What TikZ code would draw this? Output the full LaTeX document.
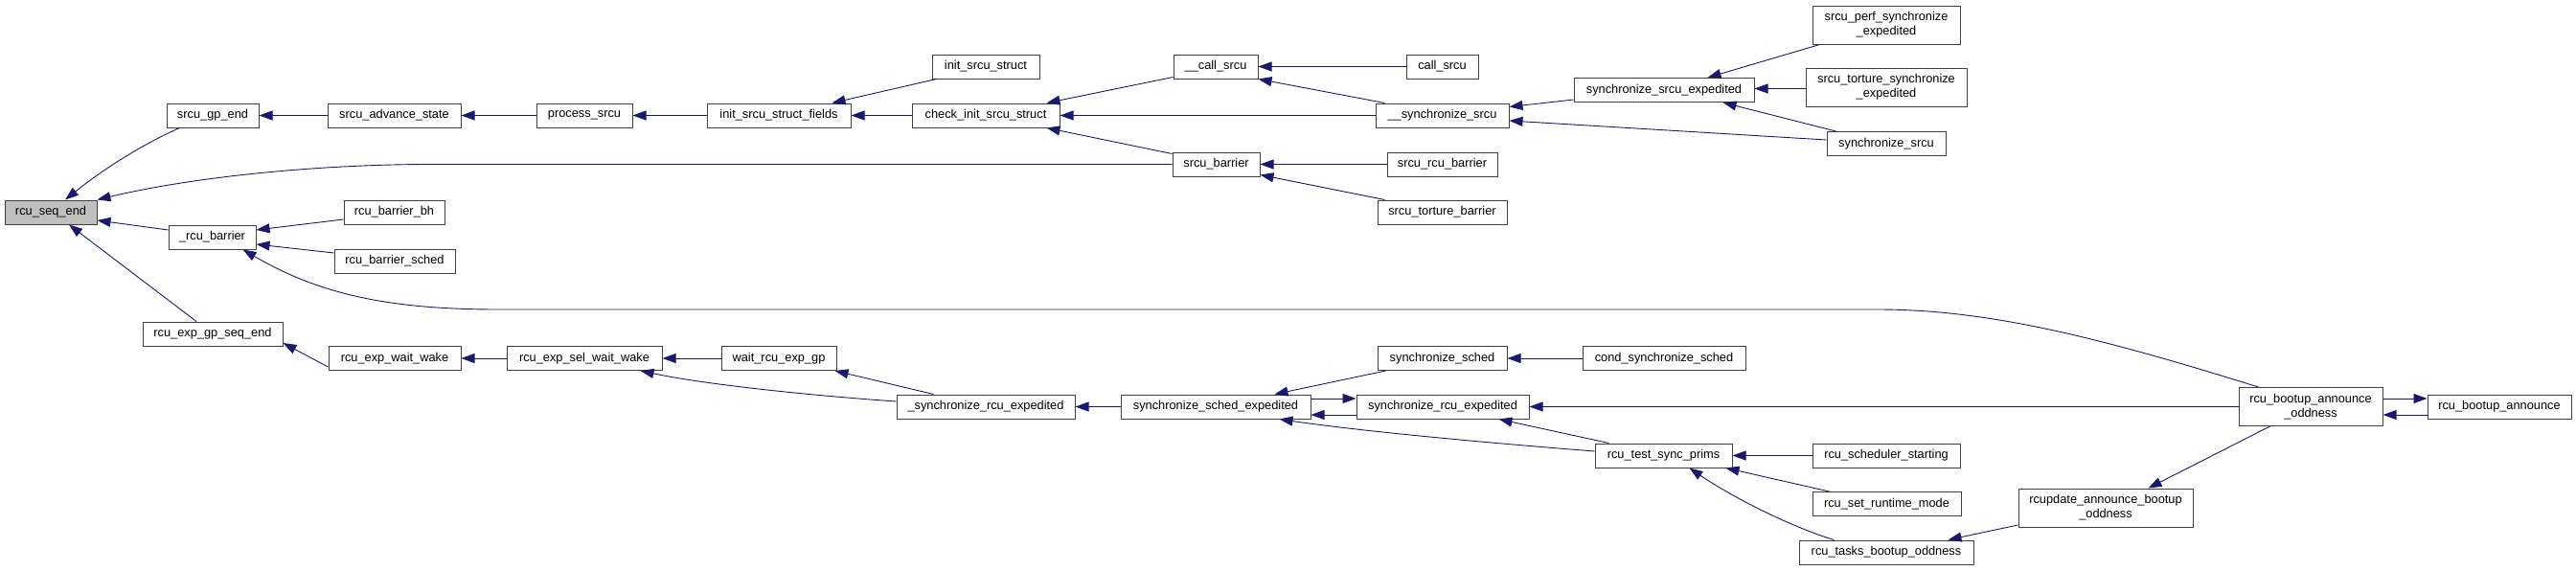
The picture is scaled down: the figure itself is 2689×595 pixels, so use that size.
\documentclass[tikz,border=0pt]{standalone}
\usepackage{fontspec}
\setmainfont{Liberation Sans}
\usetikzlibrary{arrows.meta}
\definecolor{edgecol}{HTML}{191970}
\tikzset{
  box/.style={draw=black!75, fill=white, line width=1pt, inner sep=0pt, minimum height=25pt, align=center, font=\fontsize{12.8}{15}\selectfont},
  tallbox/.style={minimum height=40pt},
  edge/.style={draw=edgecol, line width=0.9pt, -{Triangle[length=14pt,width=10pt]}},
}
\begin{document}
\begin{tikzpicture}[x=1pt,y=-1pt]
\useasboundingbox (0,0) rectangle (2689,595);
% nodes
\node[box, fill=black!25, minimum width=96pt] (seq) at (53,221.5) {rcu\_seq\_end};
\node[box, minimum width=96pt] (gpend) at (222,120.5) {srcu\_gp\_end};
\node[box, minimum width=139pt] (adv) at (411.5,120.5) {srcu\_advance\_state};
\node[box, minimum width=91pt] (rbar) at (221.5,247.5) {\_rcu\_barrier};
\node[box, minimum width=105pt] (rbbh) at (411.5,221.5) {rcu\_barrier\_bh};
\node[box, minimum width=126pt] (rbs) at (412,272.5) {rcu\_barrier\_sched};
\node[box, minimum width=146pt] (expgp) at (222,348.5) {rcu\_exp\_gp\_seq\_end};
\node[box, minimum width=138pt] (eww) at (412,374) {rcu\_exp\_wait\_wake};
\node[box, minimum width=100pt] (proc) at (610,120.5) {process\_srcu};
\node[box, minimum width=150pt] (isf) at (813,120.5) {init\_srcu\_struct\_fields};
\node[box, minimum width=162pt] (esww) at (610,374) {rcu\_exp\_sel\_wait\_wake};
\node[box, minimum width=120pt] (wreg) at (813,374) {wait\_rcu\_exp\_gp};
\node[box, minimum width=112pt] (iss) at (1029,69.5) {init\_srcu\_struct};
\node[box, minimum width=154pt] (ciss) at (1029,120.5) {check\_init\_srcu\_struct};
\node[box, minimum width=88pt] (csrcu) at (1269,69.5) {\_\_call\_srcu};
\node[box, minimum width=91pt] (sbar) at (1269.5,171.5) {srcu\_barrier};
\node[box, minimum width=186pt] (usre) at (1029,424.5) {\_synchronize\_rcu\_expedited};
\node[box, minimum width=198pt] (sse) at (1269,424.5) {synchronize\_sched\_expedited};
\node[box, minimum width=75pt] (callsrcu) at (1505.5,69.5) {call\_srcu};
\node[box, minimum width=139pt] (ussrcu) at (1505.5,120.5) {\_\_synchronize\_srcu};
\node[box, minimum width=188pt] (ssrcue) at (1737,94) {synchronize\_srcu\_expedited};
\node[box, minimum width=115pt] (srb) at (1505.5,171.5) {srcu\_rcu\_barrier};
\node[box, minimum width=135pt] (stb) at (1505.5,221.5) {srcu\_torture\_barrier};
\node[box, minimum width=135pt] (ssch) at (1505.5,374) {synchronize\_sched};
\node[box, minimum width=180pt] (sre) at (1506,424.5) {synchronize\_rcu\_expedited};
\node[box, minimum width=143pt] (rtsp) at (1736.5,475.5) {rcu\_test\_sync\_prims};
\node[box, minimum width=170pt] (css) at (1737,374) {cond\_synchronize\_sched};
\node[box, tallbox, minimum width=154pt] (spse) at (1969,26) {srcu\_perf\_synchronize\\\_expedited};
\node[box, tallbox, minimum width=168pt] (stse) at (1969,91) {srcu\_torture\_synchronize\\\_expedited};
\node[box, minimum width=124pt] (ssrcu) at (1969,150) {synchronize\_srcu};
\node[box, minimum width=154pt] (rss) at (1969,475.5) {rcu\_scheduler\_starting};
\node[box, minimum width=155pt] (rsrm) at (1969.5,526) {rcu\_set\_runtime\_mode};
\node[box, minimum width=182pt] (rtbo) at (1969,576.5) {rcu\_tasks\_bootup\_oddness};
\node[box, tallbox, minimum width=182pt] (rabo) at (2198,530) {rcupdate\_announce\_bootup\\\_oddness};
\node[box, tallbox, minimum width=150pt] (rbao) at (2412,424.5) {rcu\_bootup\_announce\\\_oddness};
\node[box, minimum width=150pt] (rba) at (2609,424.5) {rcu\_bootup\_announce};
% edges
\draw[edge] ([xshift=14pt]gpend.south west) .. controls (150,150) and (110,175) .. ([xshift=15pt]seq.north);
\draw[edge] (sbar.west) -- (450,171.5) .. controls (330,171.5) and (200,185) .. (seq.north east);
\draw[edge] ([yshift=7.5pt]rbar.west) -- ([yshift=-8.5pt]seq.east);
\draw[edge] ([xshift=-17pt]expgp.north) -- ([xshift=19pt]seq.south);
\draw[edge] (adv.west) -- (gpend.east);
\draw[edge] (proc.west) -- (adv.east);
\draw[edge] (isf.west) -- (proc.east);
\draw[edge] ([xshift=5pt]iss.south west) -- ([xshift=-20pt]isf.north east);
\draw[edge] (ciss.west) -- (isf.east);
\draw[edge] ([yshift=2pt]csrcu.south west) -- ([xshift=-14pt]ciss.north east);
\draw[edge] (ussrcu.west) -- (ciss.east);
\draw[edge] ([yshift=-2pt]sbar.north west) -- ([xshift=-14pt]ciss.south east);
\draw[edge] (callsrcu.west) -- (csrcu.east);
\draw[edge] ([xshift=10pt]ussrcu.north west) -- (csrcu.south east);
\draw[edge] ([yshift=3pt]ssrcue.south west) -- ([yshift=-4pt]ussrcu.north east);
\draw[edge] ([yshift=4pt]ssrcu.west) -- ([yshift=-5.5pt]ussrcu.east);
\draw[edge] ([xshift=8pt]spse.south west) -- ([xshift=-49pt]ssrcue.north east);
\draw[edge] ([yshift=-1.5pt]stse.west) -- ([yshift=1.5pt]ssrcue.east);
\draw[edge] ([xshift=10pt]ssrcu.north west) -- ([xshift=-33pt]ssrcue.south east);
\draw[edge] (srb.west) -- (sbar.east);
\draw[edge] ([xshift=8pt]stb.north west) -- ([yshift=2pt]sbar.south east);
\draw[edge] ([yshift=-7.5pt]rbbh.west) -- ([yshift=7.5pt]rbar.east);
\draw[edge] ([yshift=8.5pt]rbs.west) -- ([yshift=-7.5pt]rbar.east);
\draw[edge] ([xshift=21pt]rbao.north west) .. controls (2200,355) and (2080,323) .. (1960,323) -- (520,323) .. controls (400,323) and (330,305) .. ([xshift=-14pt]rbar.south east);
\draw[edge] ([yshift=-9pt]eww.west) -- ([yshift=-9.5pt]expgp.east);
\draw[edge] (esww.west) -- (eww.east);
\draw[edge] (wreg.west) -- (esww.east);
\draw[edge] ([yshift=5.5pt]usre.west) .. controls (850,413) and (740,402) .. ([xshift=-23pt]esww.south east);
\draw[edge] ([xshift=39pt]usre.north west) -- ([xshift=-2pt]wreg.south east);
\draw[edge] (sse.west) -- (usre.east);
\draw[edge] ([xshift=9pt]ssch.south west) -- ([xshift=-38pt]sse.north east);
\draw[edge] (css.west) -- (ssch.east);
\draw[edge] ([yshift=8.5pt]sse.east) -- ([yshift=8.5pt]sre.west);
\draw[edge] ([yshift=-8.5pt]sre.west) -- ([yshift=-8.5pt]sse.east);
\draw[edge] ([yshift=4.5pt]rtsp.west) .. controls (1550,462) and (1420,450) .. ([xshift=-33pt]sse.south east);
\draw[edge] (rbao.west) -- (sre.east);
\draw[edge] ([xshift=15pt]rtsp.north west) -- ([xshift=-32pt]sre.south east);
\draw[edge] (rss.west) -- (rtsp.east);
\draw[edge] ([xshift=18pt]rsrm.north west) -- ([xshift=-7pt]rtsp.south east);
\draw[edge] ([xshift=37pt]rtbo.north west) .. controls (1870,550) and (1810,520) .. ([xshift=-45pt]rtsp.south east);
\draw[edge] ([yshift=-18pt]rabo.west) -- ([xshift=-27pt]rtbo.north east);
\draw[edge] ([xshift=33pt]rbao.south west) -- ([xshift=-47pt]rabo.north east);
\draw[edge] ([yshift=-8.5pt]rba.west) -- ([yshift=-8.5pt]rbao.east);
\draw[edge] ([yshift=8.5pt]rbao.east) -- ([yshift=8.5pt]rba.west);
\end{tikzpicture}
\end{document}
